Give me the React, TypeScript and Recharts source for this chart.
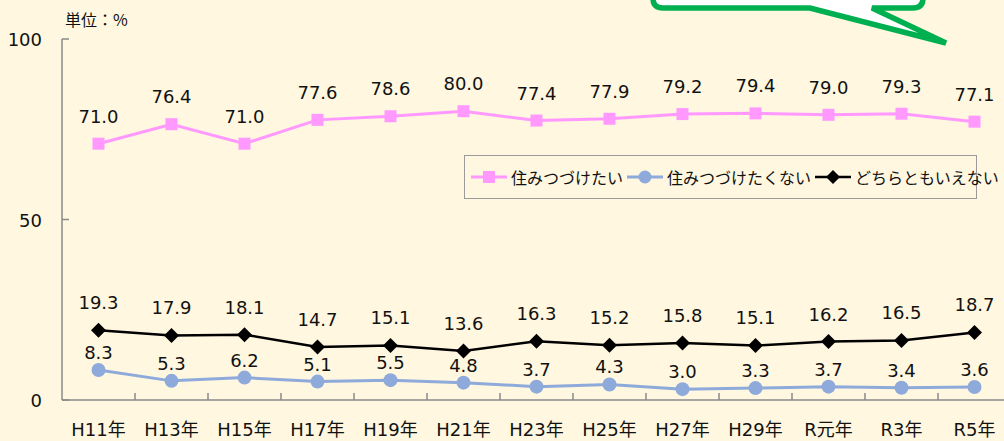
import { LineChart, Line, XAxis, YAxis, LabelList } from "recharts";

const years = ["H11年", "H13年", "H15年", "H17年", "H19年", "H21年", "H23年", "H25年", "H27年", "H29年", "R元年", "R3年", "R5年"];
const wantStay = [71.0, 76.4, 71.0, 77.6, 78.6, 80.0, 77.4, 77.9, 79.2, 79.4, 79.0, 79.3, 77.1];
const notStay = [8.3, 5.3, 6.2, 5.1, 5.5, 4.8, 3.7, 4.3, 3.0, 3.3, 3.7, 3.4, 3.6];
const neither = [19.3, 17.9, 18.1, 14.7, 15.1, 13.6, 16.3, 15.2, 15.8, 15.1, 16.2, 16.5, 18.7];
const yTicks = [0, 50, 100];

const data = years.map((year, i) => ({
  year,
  wantStay: wantStay[i],
  notStay: notStay[i],
  neither: neither[i],
}));

const FONT = '"DejaVu Sans", "Noto Sans CJK JP", sans-serif';
const JP_FONT = '"Noto Sans CJK JP", sans-serif';
const BG = "#fff7e0";
const AXIS = "#8a8a8a";
const PINK = "#ff99ff";
const BLUE = "#8eaadb";

const W = 1011;
const H = 441;
const LEFT = 62;
const BAND = (W - LEFT) / years.length;

function XTick(props: any) {
  const { x, y, payload } = props;
  return (
    <g>
      <line x1={x + BAND / 2} x2={x + BAND / 2} y1={y} y2={y - 7} stroke={AXIS} strokeWidth={1.5} />
      <text x={x} y={y + 36} textAnchor="middle" fontSize={18} fill="#111" fontFamily={FONT}>
        {payload.value}
      </text>
    </g>
  );
}

function YTick(props: any) {
  const { x, y, payload } = props;
  return (
    <g>
      <line x1={x} x2={x + 7} y1={y} y2={y} stroke={AXIS} strokeWidth={1.5} />
      <text x={x - 20} y={y + 7} textAnchor="end" fontSize={18} fill="#111" fontFamily={FONT}>
        {payload.value}
      </text>
    </g>
  );
}

const squareDot = (p: any) => (
  <rect key={`sq-${p.index}`} x={p.cx - 6} y={p.cy - 6} width={12} height={12} fill={PINK} />
);

const diamondDot = (p: any) => (
  <polygon
    key={`dm-${p.index}`}
    points={`${p.cx},${p.cy - 7.5} ${p.cx + 7.5},${p.cy} ${p.cx},${p.cy + 7.5} ${p.cx - 7.5},${p.cy}`}
    fill="#000"
  />
);

function LegendIcon({ kind }: { kind: string }) {
  return (
    <svg width={36} height={14} style={{ display: "block" }}>
      {kind === "pink" && (
        <>
          <line x1={0} x2={36} y1={7} y2={7} stroke={PINK} strokeWidth={3} />
          <rect x={12} y={1} width={12} height={12} fill={PINK} />
        </>
      )}
      {kind === "blue" && (
        <>
          <line x1={0} x2={36} y1={7} y2={7} stroke={BLUE} strokeWidth={3} />
          <circle cx={18} cy={7} r={6.5} fill={BLUE} />
        </>
      )}
      {kind === "black" && (
        <>
          <line x1={0} x2={36} y1={7} y2={7} stroke="#000" strokeWidth={2.5} />
          <polygon points="18,0 25,7 18,14 11,7" fill="#000" />
        </>
      )}
    </svg>
  );
}

const legendItems = [
  { kind: "pink", label: "住みつづけたい" },
  { kind: "blue", label: "住みつづけたくない" },
  { kind: "black", label: "どちらともいえない" },
];

const fmt = (v: any) => Number(v).toFixed(1);

export default function App() {
  return (
    <div
      style={{
        position: "absolute",
        left: 0,
        top: 0,
        width: 1004,
        height: 441,
        overflow: "hidden",
        background: BG,
        fontFamily: FONT,
      }}
    >
      <LineChart width={W} height={H} data={data} margin={{ top: 39, right: 0, bottom: 0, left: 0 }}>
        <XAxis
          dataKey="year"
          height={41}
          padding={{ left: BAND / 2, right: BAND / 2 }}
          axisLine={{ stroke: AXIS, strokeWidth: 1.5 }}
          tickLine={false}
          tickSize={0}
          tickMargin={0}
          tick={<XTick />}
          interval={0}
        />
        <YAxis
          width={LEFT}
          domain={[0, 100]}
          ticks={yTicks}
          axisLine={{ stroke: AXIS, strokeWidth: 1.5 }}
          tickLine={false}
          tickSize={0}
          tickMargin={0}
          tick={<YTick />}
          interval={0}
        />
        <Line dataKey="neither" stroke="#000" strokeWidth={2.5} dot={diamondDot} isAnimationActive={false}>
          <LabelList dataKey="neither" position="top" offset={21} fontSize={18} fill="#111" fontFamily={FONT} formatter={fmt} />
        </Line>
        <Line dataKey="notStay" stroke={BLUE} strokeWidth={3} dot={{ r: 7, fill: BLUE, stroke: "none" }} isAnimationActive={false}>
          <LabelList dataKey="notStay" position="top" offset={11} fontSize={18} fill="#111" fontFamily={FONT} formatter={fmt} />
        </Line>
        <Line dataKey="wantStay" stroke={PINK} strokeWidth={3} dot={squareDot} isAnimationActive={false}>
          <LabelList dataKey="wantStay" position="top" offset={21} fontSize={18} fill="#111" fontFamily={FONT} formatter={fmt} />
        </Line>
      </LineChart>

      <div
        style={{
          position: "absolute",
          left: 464,
          top: 155,
          width: 513,
          height: 44,
          border: "1.5px solid #9a9a9a",
          display: "flex",
          alignItems: "center",
          paddingLeft: 6,
          boxSizing: "border-box",
          fontSize: 16,
          fontFamily: JP_FONT,
          color: "#111",
        }}
      >
        {legendItems.map((it) => (
          <div key={it.kind} style={{ display: "flex", alignItems: "center", marginRight: 4 }}>
            <LegendIcon kind={it.kind} />
            <span style={{ marginLeft: 4, whiteSpace: "nowrap" }}>{it.label}</span>
          </div>
        ))}
      </div>

      <svg width={1004} height={441} style={{ position: "absolute", left: 0, top: 0, pointerEvents: "none" }}>
        <text x={65} y={26} fontSize={16} fill="#111" fontFamily={JP_FONT}>
          単位：%
        </text>
        <path
          d="M 653 -30 L 653 -2 Q 653 8 663 8 L 810 8 L 946 43 L 872 8 L 913 8 Q 923 8 923 -2 L 923 -30"
          fill="#fff"
          stroke="#00b050"
          strokeWidth={5.5}
          strokeLinejoin="miter"
        />
      </svg>
    </div>
  );
}
